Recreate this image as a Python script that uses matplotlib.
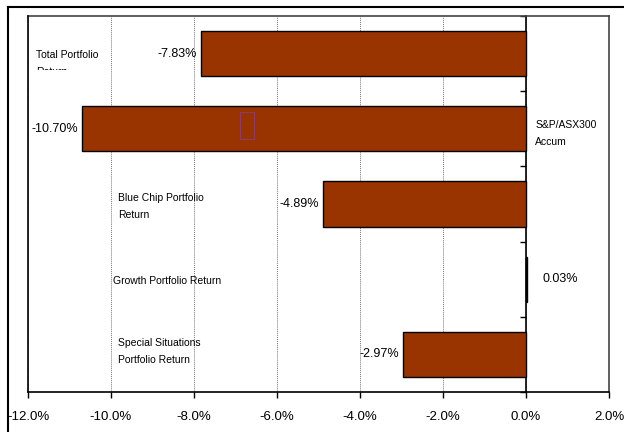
import matplotlib
matplotlib.use("Agg")
import matplotlib.pyplot as plt
from matplotlib.patches import Rectangle
from matplotlib.lines import Line2D
from matplotlib.ticker import FuncFormatter
import numpy as np

plt.rcParams['font.family'] = ['Liberation Sans Narrow', 'Liberation Sans', 'DejaVu Sans']

categories = ["Total Portfolio\nReturn", "S&P/ASX300\nAccum", "Blue Chip Portfolio\nReturn",
              "Growth Portfolio Return", "Special Situations\nPortfolio Return"]
returns = [-7.83, -10.70, -4.89, 0.03, -2.97]
xticks = [-12, -10, -8, -6, -4, -2, 0, 2]

bar_color = "#993300"

fig = plt.figure(figsize=(6.24, 4.32), dpi=100)
ax = fig.add_axes([28 / 624, 40 / 432, 581 / 624, 376 / 432])

pos = np.arange(len(returns))
ax.barh(pos, returns, height=0.6, color=bar_color, edgecolor="black", linewidth=1, zorder=3)

ax.set_xlim(-12, 2)
ax.set_ylim(len(returns) - 0.5, -0.5)
ax.set_xticks(xticks)
ax.xaxis.set_major_formatter(FuncFormatter(lambda v, p: f"{v:.1f}%"))
ax.tick_params(axis="x", direction="out", length=4, width=1, pad=10, labelsize=9.5)

# vertical axis sits at zero, ticks between the categories
ax.spines["left"].set_position(("data", 0))
ax.set_yticks(np.arange(len(returns) + 1) - 0.5)
ax.set_yticklabels([])
ax.tick_params(axis="y", direction="out", length=4, width=1)
ax.axvline(-12, color="black", lw=1.2, clip_on=False, zorder=4)
for s in ["top", "right", "bottom", "left"]:
    ax.spines[s].set_linewidth(1.2)
ax.spines["top"].set_color("#444444")
ax.spines["right"].set_color("#444444")

ax.grid(axis="x", color="#777777", linestyle=(0, (1, 1)), linewidth=0.7, zorder=0)

# category labels placed inside the plot area
cat_pos = [(-11.81, 0.13), (0.22, 1.06), (-9.83, 2.03), (-9.95, 3.02), (-9.83, 3.96)]
for name, (x, y) in zip(categories, cat_pos):
    t = ax.text(x, y, name, ha="left", va="center", fontsize=7.5, linespacing=1.9)
    if name.startswith("Total"):
        # second line is cut off by the label box
        clip = Rectangle((-12, -0.5), 5, 0.72, transform=ax.transData)
        t.set_clip_on(True)
        t.set_clip_path(clip)

# value labels
for i, v in enumerate(returns):
    if v < 0:
        ax.annotate(f"{v:.2f}%", (v, i), xytext=(-4, 0), textcoords="offset pixels",
                    ha="right", va="center", fontsize=9)
    else:
        ax.annotate(f"{v:.2f}%", (v, i), xytext=(15, 0), textcoords="offset pixels",
                    ha="left", va="center", fontsize=9)

# small outline left over inside the second bar
ax.add_patch(Rectangle((-6.89, 0.78), 0.34, 0.36, fill=False, edgecolor="#8e3a6a",
                       linewidth=0.8, zorder=4))

# outer chart frame
fig.add_artist(Line2D([7.5 / 624, 7.5 / 624], [0, 1 - 6.5 / 432], color="black", lw=1.5,
                      transform=fig.transFigure))
fig.add_artist(Line2D([7.5 / 624, 1], [1 - 6.5 / 432, 1 - 6.5 / 432], color="black", lw=1.5,
                      transform=fig.transFigure))

fig.savefig("out.png", dpi=100)
